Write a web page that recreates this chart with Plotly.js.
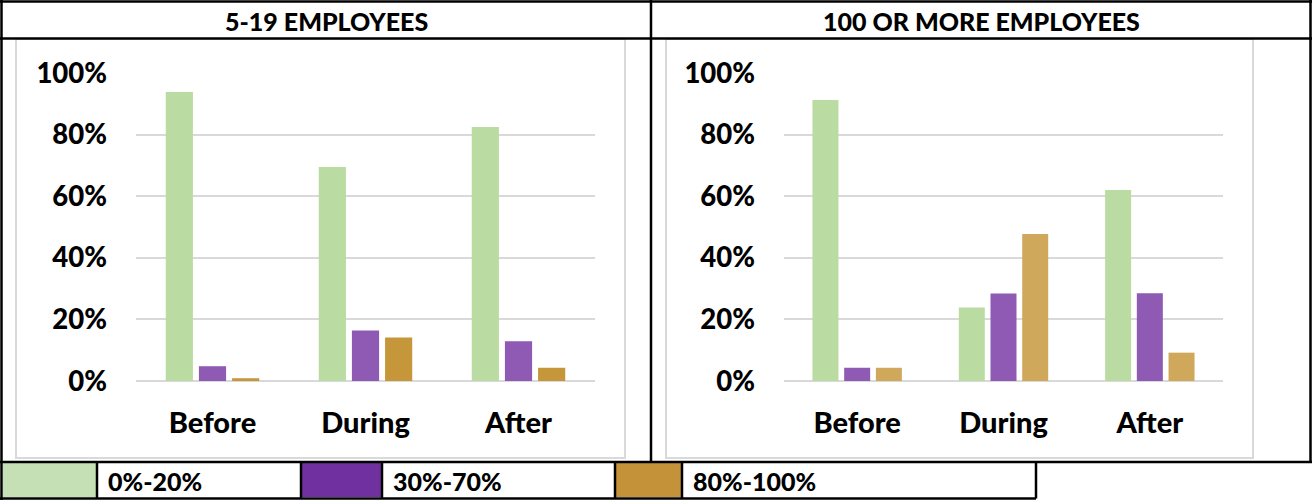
<!DOCTYPE html>
<html>
<head>
<meta charset="utf-8">
<script src="https://cdn.plot.ly/plotly-3.0.1.min.js"></script>
<style>
  html, body { margin: 0; padding: 0; background: #ffffff; }
  #chart { width: 1312px; height: 500px; }
</style>
</head>
<body>
<div id="chart"></div>
<script>
// ---- data ----
const categories = ['Before', 'During', 'After'];
const seriesNames = ['0%-20%', '30%-70%', '80%-100%'];
const panelTitles = ['5-19 EMPLOYEES', '100 OR MORE EMPLOYEES'];
const small_0_20 = [0.938, 0.695, 0.825];
const small_30_70 = [0.048, 0.164, 0.129];
const small_80_100 = [0.009, 0.141, 0.043];
const large_0_20 = [0.912, 0.239, 0.62];
const large_30_70 = [0.043, 0.284, 0.285];
const large_80_100 = [0.043, 0.477, 0.092];
const yTickVals = [0, 0.2, 0.4, 0.6, 0.8, 1.0];

// ---- styles ----
const FONT = 'Lato, "Open Sans", sans-serif';
const barColors = ['#BADBA2', '#8E5AB3', '#C6963A'];
const barColorsRight = ['#BADBA2', '#8E5AB3', '#D0A85B'];
const legendColors = ['#C5E0B4', '#7030A0', '#C49339'];

const W = 1312, H = 500;
const px = x => x / W;
const py = y => 1 - y / H;

const smallSeries = [small_0_20, small_30_70, small_80_100];
const largeSeries = [large_0_20, large_30_70, large_80_100];

const traces = [];
smallSeries.forEach((vals, i) => {
  traces.push({
    type: 'bar', x: categories, y: vals, name: seriesNames[i],
    marker: { color: barColors[i] }, xaxis: 'x', yaxis: 'y',
    showlegend: false, hoverinfo: 'skip'
  });
});
largeSeries.forEach((vals, i) => {
  traces.push({
    type: 'bar', x: categories, y: vals, name: seriesNames[i],
    marker: { color: barColorsRight[i] }, xaxis: 'x2', yaxis: 'y2',
    showlegend: false, hoverinfo: 'skip'
  });
});

const yAxisCommon = {
  range: [0, 1.0], tickvals: yTickVals, tickformat: '.0%',
  showgrid: true, gridcolor: '#D9D9D9', gridwidth: 2,
  zeroline: true, zerolinecolor: '#D9D9D9', zerolinewidth: 2,
  showline: false, ticks: '', fixedrange: true,
  tickfont: { family: FONT, size: 27.5, color: '#000000', weight: 900 },
  ticklabelstandoff: 28,
  domain: [py(381), py(73)]
};
const xAxisCommon = {
  showgrid: false, zeroline: false, showline: false, ticks: '',
  tickfont: { family: FONT, size: 29, color: '#000000', weight: 900 },
  ticklabelstandoff: 22, fixedrange: true
};

const blk = { color: '#000000', width: 2.5 };
const gry = { color: '#D9D9D9', width: 2 };
const line = (x0, y0, x1, y1, l) => ({
  type: 'line', xref: 'paper', yref: 'paper',
  x0: px(x0), y0: py(y0), x1: px(x1), y1: py(y1), line: l, layer: 'above'
});
const rect = (x0, y0, x1, y1, fill, l) => ({
  type: 'rect', xref: 'paper', yref: 'paper',
  x0: px(x0), y0: py(y0), x1: px(x1), y1: py(y1),
  fillcolor: fill, line: l || { width: 0 }, layer: 'below'
});

const shapes = [
  // chart frames (light gray)
  rect(16, 39, 625, 458, 'rgba(0,0,0,0)', gry),
  rect(666, 39, 1253, 458, 'rgba(0,0,0,0)', gry),
  // legend swatches
  rect(3, 463, 97, 497, legendColors[0]),
  rect(301, 463, 382, 497, legendColors[1]),
  rect(615, 463, 682, 497, legendColors[2]),
  // table lines
  line(0, 1.5, 1312, 1.5, blk),
  line(1.5, 0, 1.5, 500, blk),
  line(0, 38.5, 1312, 38.5, blk),
  line(651, 0, 651, 462, blk),
  line(1310.5, 0, 1310.5, 462, blk),
  line(0, 462, 1312, 462, blk),
  line(0, 498.5, 1036, 498.5, blk),
  line(97, 462, 97, 498.5, blk),
  line(301, 462, 301, 498.5, blk),
  line(382, 462, 382, 498.5, blk),
  line(615, 462, 615, 498.5, blk),
  line(682, 462, 682, 498.5, blk),
  line(1036, 462, 1036, 498.5, blk)
];

const ann = (text, x, y, size, xanchor) => ({
  text: text, xref: 'paper', yref: 'paper', x: px(x), y: py(y),
  xanchor: xanchor, yanchor: 'middle', showarrow: false,
  font: { family: FONT, size: size, color: '#000000', weight: 900 }
});

const annotations = [
  ann(panelTitles[0], 326, 21, 25, 'center'),
  ann(panelTitles[1], 981, 21, 25, 'center'),
  ann(seriesNames[0], 106, 481, 25, 'left'),
  ann(seriesNames[1], 391, 481, 25, 'left'),
  ann(seriesNames[2], 691, 481, 25, 'left')
];

const layout = {
  width: W, height: H,
  margin: { l: 0, r: 0, t: 0, b: 0, pad: 0 },
  paper_bgcolor: '#ffffff', plot_bgcolor: 'rgba(0,0,0,0)',
  barmode: 'group', bargap: 0.35, bargroupgap: 0.18,
  showlegend: false,
  xaxis: Object.assign({}, xAxisCommon, { domain: [px(136), px(595)], anchor: 'y' }),
  yaxis: Object.assign({}, yAxisCommon, { anchor: 'x' }),
  xaxis2: Object.assign({}, xAxisCommon, { domain: [px(784), px(1223)], anchor: 'y2' }),
  yaxis2: Object.assign({}, yAxisCommon, { anchor: 'x2' }),
  shapes: shapes,
  annotations: annotations
};

Plotly.newPlot('chart', traces, layout, { staticPlot: true, displayModeBar: false });
</script>
</body>
</html>
